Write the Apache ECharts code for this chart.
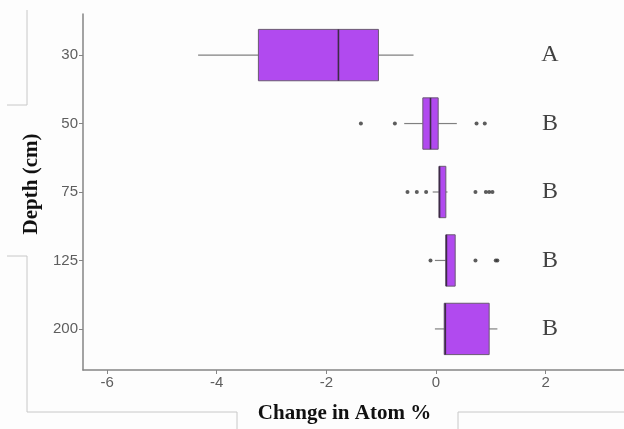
<!DOCTYPE html>
<html>
<head>
<meta charset="utf-8">
<script src="https://cdn.jsdelivr.net/npm/echarts@6/dist/echarts.min.js"></script>
<style>html,body{margin:0;padding:0;background:#fdfdfd}#c{width:624px;height:429px}</style>
</head>
<body>
<div id="c"></div>
<script>
// Data
const depths = ['30', '50', '75', '125', '200'];
// [min whisker, Q1, median, Q3, max whisker] for each depth
const boxStats = [
  [-4.34, -3.24, -1.78, -1.05, -0.41],
  [-0.58, -0.24, -0.10, 0.04, 0.38],
  [-0.06, 0.055, 0.065, 0.18, 0.21],
  [-0.02, 0.18, 0.19, 0.35, 0.35],
  [-0.02, 0.15, 0.17, 0.97, 1.12]
];
const outliers30 = [];
const outliers50 = [-1.37, -0.75, 0.74, 0.89];
const outliers75 = [-0.52, -0.35, -0.18, 0.72, 0.91, 0.97, 1.03];
const outliers125 = [-0.10, 0.72, 1.09, 1.12];
const outliers200 = [];
const letters = ['A', 'B', 'B', 'B', 'B'];
const xTicks = [-6, -4, -2, 0, 2];

const outlierGroups = [outliers30, outliers50, outliers75, outliers125, outliers200];
const boxData = boxStats.map((s, i) => [i + 1].concat(s));
const outlierData = [];
outlierGroups.forEach((g, i) => g.forEach(v => outlierData.push([v, i + 1])));
const LETTER_X = 2.08;
const letterData = letters.map((l, i) => [LETTER_X, i + 1, l]);
const yPos = depths.map((d, i) => i + 1);

const chart = echarts.init(document.getElementById('c'), null, {renderer: 'canvas'});
const lineCol = '#c8c8c8';
chart.setOption({
  backgroundColor: '#fdfdfd',
  animation: false,
  grid: {left: 83, right: 0, top: 14, bottom: 59},
  xAxis: {
    type: 'value', min: -6.44, max: 3.43,
    splitLine: {show: false},
    axisLine: {show: true, onZero: false, lineStyle: {color: '#858585', width: 1.5}},
    axisTick: {show: true, length: 4, customValues: xTicks, lineStyle: {color: '#858585'}},
    axisLabel: {customValues: xTicks, color: '#5e5e5e', fontSize: 15, fontFamily: 'Liberation Sans, Arial', margin: 5},
    name: 'Change in Atom %', nameLocation: 'middle', nameGap: 33,
    nameTextStyle: {fontFamily: 'Liberation Serif, Times New Roman', fontWeight: 'bold', fontSize: 21, color: '#111', padding: [0, 18, 0, 0]}
  },
  yAxis: {
    type: 'value', inverse: true, min: 0.4, max: 5.6,
    splitLine: {show: false},
    axisLine: {show: true, onZero: false, lineStyle: {color: '#858585', width: 1.5}},
    axisTick: {show: true, length: 4, customValues: yPos, lineStyle: {color: '#858585'}},
    axisLabel: {customValues: yPos, formatter: v => depths[Math.round(v) - 1], color: '#5e5e5e', fontSize: 15, fontFamily: 'Liberation Sans, Arial', margin: 5},
    name: 'Depth (cm)', nameLocation: 'middle', nameGap: 41, nameRotate: 90,
    nameTextStyle: {fontFamily: 'Liberation Serif, Times New Roman', fontWeight: 'bold', fontSize: 21, color: '#111', padding: [0, 0, 0, 16]}
  },
  graphic: [
    {type: 'polyline', shape: {points: [[27, 10], [27, 105], [7, 105]]}, style: {stroke: lineCol, fill: null, lineWidth: 1}, silent: true},
    {type: 'polyline', shape: {points: [[7, 256], [27, 256], [27, 412], [237, 412], [237, 429]]}, style: {stroke: lineCol, fill: null, lineWidth: 1}, silent: true},
    {type: 'polyline', shape: {points: [[458, 429], [458, 412], [624, 412]]}, style: {stroke: lineCol, fill: null, lineWidth: 1}, silent: true}
  ],
  series: [
    {
      type: 'custom',
      data: boxData,
      encode: {x: [1, 2, 3, 4, 5], y: 0},
      renderItem: function (params, api) {
        const y = api.value(0);
        const pMin = api.coord([api.value(1), y]);
        const pQ1 = api.coord([api.value(2), y]);
        const pMed = api.coord([api.value(3), y]);
        const pQ3 = api.coord([api.value(4), y]);
        const pMax = api.coord([api.value(5), y]);
        const h = api.size([0, 0.75])[1];
        const cy = pQ1[1];
        return {
          type: 'group',
          children: [
            {type: 'line', shape: {x1: pMin[0], y1: cy, x2: pQ1[0], y2: cy}, style: {stroke: '#808080', lineWidth: 1.2}},
            {type: 'line', shape: {x1: pQ3[0], y1: cy, x2: pMax[0], y2: cy}, style: {stroke: '#808080', lineWidth: 1.2}},
            {type: 'rect', shape: {x: pQ1[0], y: cy - h / 2, width: pQ3[0] - pQ1[0], height: h}, style: {fill: '#b14aef', stroke: '#6a5a72', lineWidth: 1}},
            {type: 'line', shape: {x1: pMed[0], y1: cy - h / 2, x2: pMed[0], y2: cy + h / 2}, style: {stroke: '#3d2b47', lineWidth: 1.6}}
          ]
        };
      },
      z: 2
    },
    {
      type: 'scatter',
      data: outlierData,
      symbolSize: 4,
      itemStyle: {color: '#333333'},
      z: 3
    },
    {
      type: 'scatter',
      data: letterData,
      symbolSize: 0,
      label: {
        show: true, position: 'inside', formatter: p => p.value[2],
        fontFamily: 'Liberation Serif, Times New Roman', fontSize: 24, color: '#111'
      },
      z: 4
    }
  ]
});
</script>
</body>
</html>
